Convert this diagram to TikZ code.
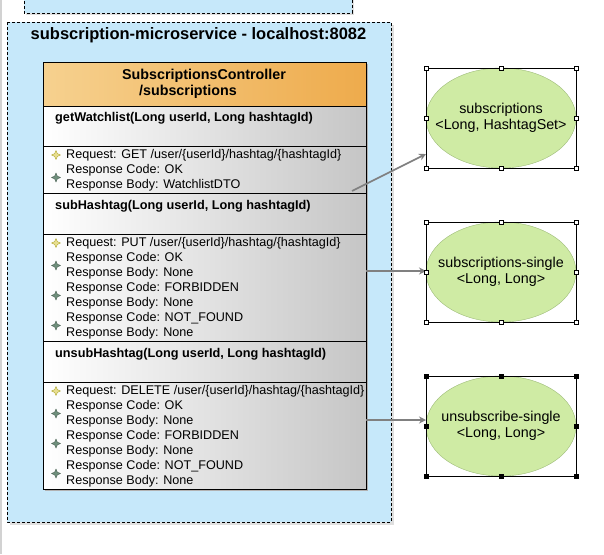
\documentclass[tikz,border=0pt]{standalone}
\usepackage{fontspec}
\setmainfont{Liberation Sans}
\usetikzlibrary{arrows.meta,shapes.geometric}

\definecolor{svcblue}{HTML}{C6E8FA}
\definecolor{hdrlight}{HTML}{F6D18F}
\definecolor{hdrdark}{HTML}{EEAB4C}
\definecolor{cachegreen}{HTML}{CFEBA4}
\definecolor{cacheedge}{HTML}{9DBB78}
\definecolor{reqfill}{HTML}{E8DE90}
\definecolor{resfill}{HTML}{6F8F7C}

\tikzset{
  svcbox/.style={draw=black,fill=svcblue,dash pattern=on 3pt off 2pt,line width=0.7pt},
  body/.style={anchor=west,inner sep=0pt,font=\fontsize{12.6}{15}\selectfont},
  method/.style={anchor=west,inner sep=0pt,font=\fontsize{12.7}{15}\selectfont\bfseries},
  reqicon/.style={star,star points=4,star point ratio=2.3,minimum size=9pt,inner sep=0pt,fill=reqfill,draw=olive!70,line width=0.4pt},
  resicon/.style={star,star points=4,star point ratio=2.3,minimum size=9pt,inner sep=0pt,fill=resfill,draw=resfill!70!black,line width=0.4pt},
  cache/.style={ellipse,minimum width=150pt,minimum height=100pt,inner sep=0pt,fill=cachegreen,draw=cacheedge,line width=0.4pt},
  cachetext/.style={align=center,inner sep=0pt,font=\fontsize{14.3}{16.5}\selectfont},
  selbox/.style={draw=black,line width=0.8pt,minimum width=150pt,minimum height=100pt,inner sep=0pt,outer sep=0pt},
  handle/.style={draw=black,fill=white,line width=0.6pt,minimum size=4pt,inner sep=0pt},
  link/.style={draw=gray,line width=1.6pt,-{Stealth[length=7pt,width=7pt]}}
}

\begin{document}
\begin{tikzpicture}[x=1pt,y=-1pt]
\useasboundingbox (0,0) rectangle (604,554);
\fill[white] (0,0) rectangle (604,554);
\draw[gray!35,line width=2pt] (1,0)--(1,554);

% service frames
\fill[gray!25] (26,-2) rectangle (354,15);
\draw[svcbox] (24,-4) rectangle (352,13);
\fill[gray!25] (10,25) rectangle (394,525);
\draw[svcbox] (7,22) rectangle (391,522);
\node[font=\fontsize{16.5}{18}\selectfont\bfseries] (svctitle) at (198.5,35) {subscription-microservice - localhost:8082};

% controller class
\fill[gray!60] (45,64) rectangle (368,491);
\shade[left color=hdrlight,right color=hdrdark] (43,62) rectangle (366,106);
\foreach \a/\b in {106/146,146/193,193/234,234/341,341/382,382/489}
  \shade[left color=white,right color=gray!45] (43,\a) rectangle (366,\b);
\draw[line width=0.7pt] (43,62) rectangle (366,489);
\foreach \y in {106,146,193,234,341,382}
  \draw[line width=0.7pt] (43,\y)--(366,\y);
\node[font=\fontsize{14.3}{16}\selectfont\bfseries] (ctrlname) at (204,76) {SubscriptionsController};
\node[font=\fontsize{14.3}{16}\selectfont\bfseries] (ctrlpath) at (188,92) {/subscriptions};

% getWatchlist
\node[method] (getname) at (55,118) {getWatchlist(Long userId, Long hashtagId)};
\foreach \t [count=\i from 0] in {Request: GET /user/\{userId\}/hashtag/\{hashtagId\},Response Code: OK,Response Body: WatchlistDTO}
  \node[body] (get-\i) at (66,155+15*\i) {\t};
\node[reqicon] (get-req) at (56,155) {};
\node[resicon] (get-res) at (56,177.5) {};

% subHashtag
\node[method] (subname) at (55,206) {subHashtag(Long userId, Long hashtagId)};
\foreach \t [count=\i from 0] in {Request: PUT /user/\{userId\}/hashtag/\{hashtagId\},Response Code: OK,Response Body: None,Response Code: FORBIDDEN,Response Body: None,Response Code: NOT\_FOUND,Response Body: None}
  \node[body] (put-\i) at (66,243+15*\i) {\t};
\node[reqicon] (put-req) at (56,243) {};
\foreach \k in {0,1,2}
  \node[resicon] (put-res-\k) at (56,265.5+30*\k) {};

% unsubHashtag
\node[method] (unsubname) at (55,354) {unsubHashtag(Long userId, Long hashtagId)};
\foreach \t [count=\i from 0] in {Request: DELETE /user/\{userId\}/hashtag/\{hashtagId\},Response Code: OK,Response Body: None,Response Code: FORBIDDEN,Response Body: None,Response Code: NOT\_FOUND,Response Body: None}
  \node[body] (del-\i) at (66,391+15*\i) {\t};
\node[reqicon] (del-req) at (56,391) {};
\foreach \k in {0,1,2}
  \node[resicon] (del-res-\k) at (56,413.5+30*\k) {};

% caches
\node[cache] (subs) at (501,118) {};
\node[cache] (single) at (501,272) {};
\node[cache] (unsub) at (501,426) {};
\node[cachetext] (subs-text) at (subs) {subscriptions\\<Long, HashtagSet>};
\node[cachetext] (single-text) at (single) {subscriptions-single\\<Long, Long>};
\node[cachetext] (unsub-text) at (unsub) {unsubscribe-single\\<Long, Long>};
\node[selbox] (subsbox) at (subs) {};
\node[selbox] (singlebox) at (single) {};
\node[selbox] (unsubbox) at (unsub) {};

% links
\coordinate (getout) at (352,191);
\coordinate (subout) at (366,271);
\coordinate (unsubout) at (366,420);
\draw[link] (getout)--([yshift=14pt]subsbox.south west);
\draw[link] (subout)--(subout -| singlebox.west);
\draw[link] (unsubout)--(unsubout -| unsubbox.west);

% handles
\foreach \b in {subsbox,singlebox}
  \foreach \a [count=\i] in {north west,north,north east,east,south east,south,south west,west}
    \node[handle] (\b-h\i) at (\b.\a) {};
\foreach \a [count=\i] in {north west,north,north east,east,south east,south,south west,west}
  \node[handle,fill=black] (unsubbox-h\i) at (unsubbox.\a) {};
\end{tikzpicture}
\end{document}
